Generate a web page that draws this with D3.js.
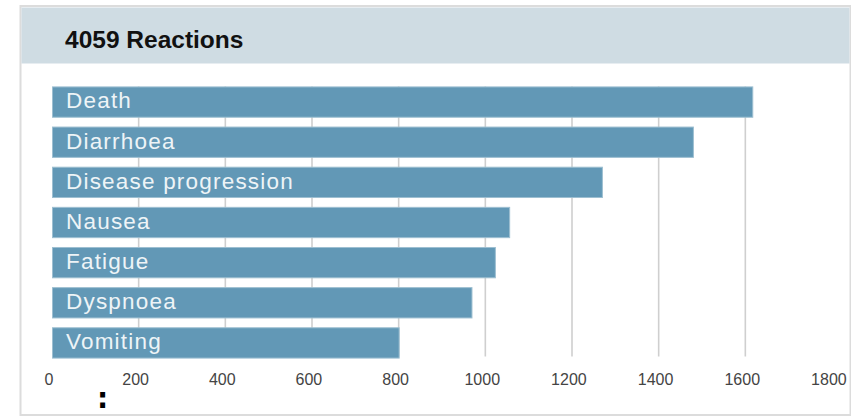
<!DOCTYPE html>
<html>
<head>
<meta charset="utf-8">
<script src="https://cdn.jsdelivr.net/npm/d3@7"></script>
<style>
  html, body { margin: 0; padding: 0; background: #ffffff; }
  svg { display: block; }
</style>
</head>
<body>
<svg id="chart" width="851" height="416"></svg>
<script>
const title = "4059 Reactions";
const categories = ["Death", "Diarrhoea", "Disease progression", "Nausea", "Fatigue", "Dyspnoea", "Vomiting"];
const values = [1616, 1479, 1269, 1055, 1022, 968, 800];
const tickValues = [0, 200, 400, 600, 800, 1000, 1200, 1400, 1600, 1800];

const svg = d3.select("#chart");

// panel frame
svg.append("rect").attr("x", 20.5).attr("y", 6).attr("width", 830).attr("height", 409)
  .attr("fill", "#ffffff").attr("stroke", "#dcdcdc").attr("stroke-width", 2);
// header band
svg.append("rect").attr("x", 21.5).attr("y", 7.5).attr("width", 828).attr("height", 56)
  .attr("fill", "#cfdce3");
svg.append("text").attr("x", 65).attr("y", 48)
  .attr("font-family", "'Liberation Sans', Arial, sans-serif")
  .attr("font-weight", "bold").attr("font-size", 24.5)
  .attr("fill", "#111").text(title);

const x = d3.scaleLinear().domain([0, 1800]).range([52, 832]);
const y = d3.scaleBand().domain(categories).range([82, 363]).paddingInner(0.22).paddingOuter(0.11);

// gridlines (inner ticks only)
const gridTop = y(categories[0]);
const gridBottom = y(categories[categories.length - 1]) + y.bandwidth() - 2;
svg.append("g").selectAll("line").data(tickValues.slice(1, -1)).join("line")
  .attr("x1", d => x(d)).attr("x2", d => x(d))
  .attr("y1", gridTop).attr("y2", gridBottom)
  .attr("stroke", "#cfcfcf").attr("stroke-width", 1.6);

// axis labels
const axis = d3.axisBottom(x).tickValues(tickValues).tickSize(0).tickPadding(0)
  .tickFormat(d3.format("d"));
const gAxis = svg.append("g").attr("transform", "translate(0,373)").call(axis);
gAxis.select(".domain").remove();
gAxis.selectAll("text")
  .attr("font-family", "'Liberation Sans', Arial, sans-serif")
  .attr("font-size", 16).attr("fill", "#444").attr("dx", -3.6).attr("dy", "0.75em");

// bars
const data = categories.map((c, i) => ({ c, v: values[i] }));
svg.append("g").selectAll("rect").data(data).join("rect")
  .attr("x", x(0) + 0.5).attr("y", d => y(d.c) + 0.5)
  .attr("width", d => x(d.v) - x(0)).attr("height", y.bandwidth() - 1)
  .attr("fill", "#6298b6").attr("stroke", "#9dbfd1").attr("stroke-width", 1);

svg.append("g").selectAll("text").data(data).join("text")
  .attr("x", 66).attr("y", d => y(d.c) + 22)
  .attr("font-family", "'Liberation Sans', Arial, sans-serif")
  .attr("font-size", 22.5).attr("letter-spacing", 1.2)
  .attr("fill", "#eef4f7").text(d => d.c);

// stray colon glyph present in the reference image
svg.append("text").attr("x", 97).attr("y", 408)
  .attr("font-family", "'DejaVu Sans', sans-serif").attr("font-weight", "bold")
  .attr("font-size", 28).attr("fill", "#000").text(":");
</script>
</body>
</html>
